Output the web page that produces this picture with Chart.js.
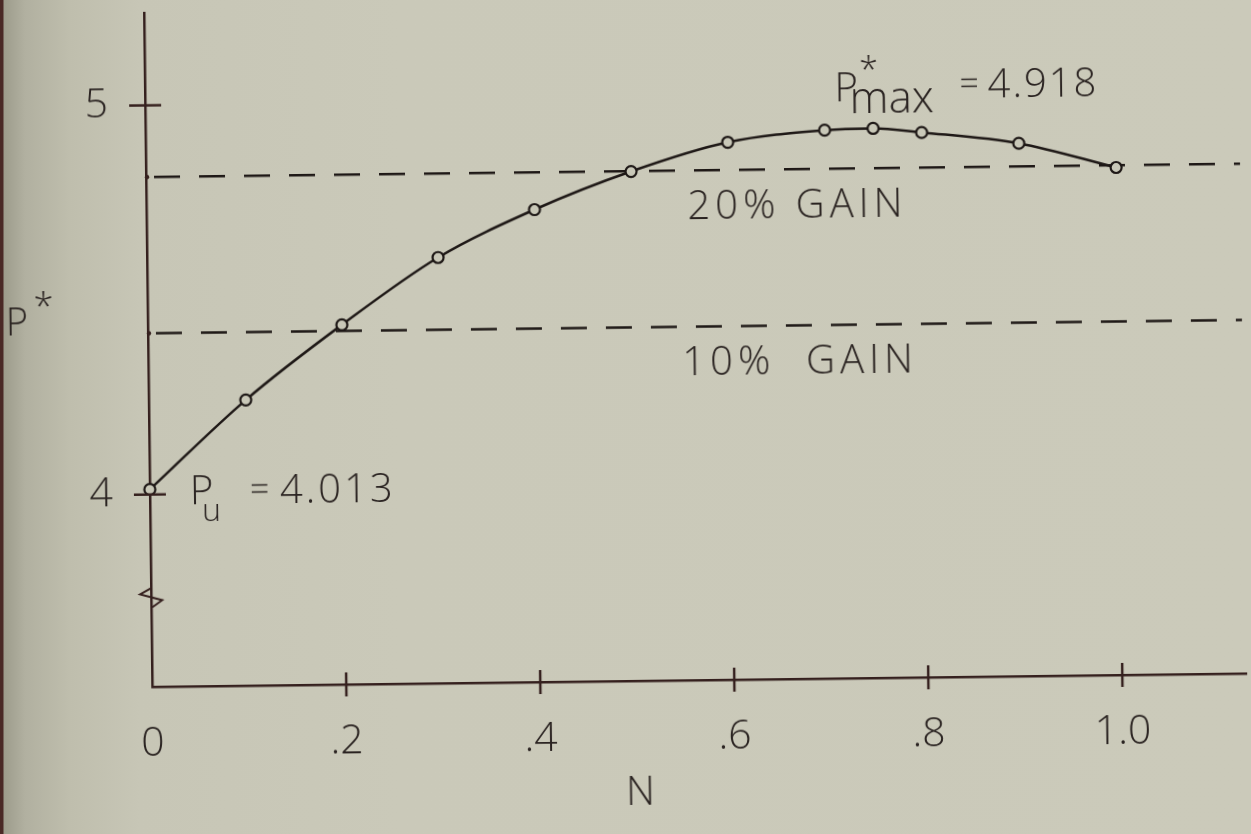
<!DOCTYPE html>
<html>
<head>
<meta charset="utf-8">
<script src="https://cdn.jsdelivr.net/npm/chart.js@4.4.1/dist/chart.umd.min.js"></script>
<style>
  html, body { margin: 0; padding: 0; width: 1251px; height: 834px; overflow: hidden; }
  body {
    background: linear-gradient(to right,
      #4a2926 0px, #4a2926 3px, #9d9c8c 4px, #b1b0a0 25px,
      #bfbead 70px, #c7c6b6 140px, #cac9b9 400px, #cbcaba 100%);
  }
  #wrap {
    position: absolute; left: 0; top: 0; width: 1251px; height: 834px;
    transform: rotate(-0.7deg); transform-origin: 625px 417px;
  }
</style>
</head>
<body>
<div id="wrap"><canvas id="chart" width="1251" height="834"></canvas></div>
<script>
// Optimum P* as a function of N
const N_VALUES = [0, 0.1, 0.2, 0.3, 0.4, 0.5, 0.6, 0.7, 0.75, 0.8, 0.9, 1.0];
const P_VALUES = [4.013, 4.24, 4.43, 4.60, 4.72, 4.815, 4.887, 4.915, 4.918, 4.906, 4.875, 4.81];

const P_U = 4.013;          // uniform value at N = 0
const P_MAX = 4.918;        // peak value
const N_AT_MAX = 0.75;

// Reference gain levels relative to P_U
const GAIN_FACTORS = [1.2, 1.1];
const GAIN_LABELS = ['20% GAIN', '10%  GAIN'];

const X_TICKS = [0, 0.2, 0.4, 0.6, 0.8, 1.0];
const X_TICK_LABELS = ['0', '.2', '.4', '.6', '.8', '1.0'];
const Y_TICKS = [4, 5];
const Y_TICK_LABELS = ['4', '5'];

const X_RANGE = [0, 1.128];
const Y_RANGE = [3.506, 5.236];
const Y_BREAK = 3.736;      // axis break marker (axis does not start at zero)

const INK = '#1e1816';
const AXIS_INK = '#35201e';
const TEXT_INK = '#2a2321';
const PAPER = '#c9c8b8';
const FONT = '"Open Sans", "Liberation Sans", "DejaVu Sans", sans-serif';

const curve = N_VALUES.map((n, i) => ({ x: n, y: P_VALUES[i] }));
const gainLines = GAIN_FACTORS.map(f => [
  { x: X_RANGE[0], y: P_U * f },
  { x: X_RANGE[1], y: P_U * f }
]);

// axes use a fixed frame: no extra room reserved for edge labels
const fixFrame = size => s => {
  if (s.isHorizontal()) s.height = size; else s.width = size;
  s.paddingTop = s.paddingBottom = s.paddingLeft = s.paddingRight = 0;
};

const decorations = {
  id: 'decorations',
  afterDraw(chart) {
    const { ctx, chartArea: a, scales: { x, y } } = chart;
    ctx.save();
    ctx.strokeStyle = AXIS_INK;
    ctx.lineWidth = 2.5;
    ctx.lineCap = 'butt';
    const seg = (x1, y1, x2, y2) => { ctx.beginPath(); ctx.moveTo(x1, y1); ctx.lineTo(x2, y2); ctx.stroke(); };

    // tick marks crossing the axes
    Y_TICKS.forEach(v => { const py = y.getPixelForValue(v); seg(a.left - 16, py, a.left + 16, py); });
    X_TICKS.forEach(v => {
      if (v === X_RANGE[0]) return;
      const px = x.getPixelForValue(v);
      seg(px, a.bottom - 12, px, a.bottom + 12);
    });

    // small dots where the gain lines meet the axis
    ctx.fillStyle = AXIS_INK;
    GAIN_FACTORS.forEach(f => {
      const gy = y.getPixelForValue(P_U * f);
      ctx.beginPath(); ctx.arc(a.left + 1, gy, 2.2, 0, Math.PI * 2); ctx.fill();
    });

    // axis break marker
    const by = y.getPixelForValue(Y_BREAK);
    ctx.lineWidth = 2;
    ctx.beginPath();
    ctx.moveTo(a.left, by - 9);
    ctx.lineTo(a.left - 11, by - 3);
    ctx.lineTo(a.left + 11, by + 3);
    ctx.lineTo(a.left + 1, by + 10);
    ctx.stroke();

    // text
    ctx.fillStyle = TEXT_INK;
    const txt = (s, tx, ty, size, spacing = 0, align = 'left') => {
      ctx.font = `300 ${size}px ${FONT}`;
      ctx.letterSpacing = spacing + 'px';
      ctx.textAlign = align;
      ctx.textBaseline = 'alphabetic';
      ctx.fillText(s, tx, ty);
    };

    // y-axis title P*
    txt('P', a.left - 142, 328, 38);
    txt('*', a.left - 114, 312, 36);

    // P_u annotation
    const ux = x.getPixelForValue(N_VALUES[0]);
    const uy = y.getPixelForValue(P_U);
    txt('P', ux + 40, uy + 15, 40);
    txt('u', ux + 52, uy + 32, 32);
    txt('=', ux + 100, uy + 12, 34);
    txt(P_U.toFixed(3), ux + 130, uy + 15, 40, 3);

    // P*max annotation
    const mx = x.getPixelForValue(N_AT_MAX);
    const my = y.getPixelForValue(P_MAX);
    txt('P', mx - 38, my - 27, 40);
    txt('*', mx - 13, my - 46, 34);
    txt('max', mx - 23, my - 15, 44);
    txt('=', mx + 87, my - 32, 34);
    txt(P_MAX.toFixed(3), mx + 115, my - 29, 40, 2);

    // gain labels under their dashed lines
    GAIN_FACTORS.forEach((f, i) => {
      const gy = y.getPixelForValue(P_U * f);
      txt(GAIN_LABELS[i], i === 0 ? 690 : 683, gy + 49, 40, 5);
    });

    // x-axis title
    txt('N', 636, 805, 40, 0, 'center');
    ctx.restore();
  }
};

new Chart(document.getElementById('chart'), {
  type: 'line',
  data: {
    datasets: [
      {
        data: curve,
        borderColor: INK,
        borderWidth: 2.5,
        cubicInterpolationMode: 'monotone',
        pointRadius: 5.5,
        pointBorderWidth: 2.2,
        pointBorderColor: INK,
        pointBackgroundColor: PAPER,
        clip: false
      },
      ...gainLines.map(pts => ({
        data: pts,
        borderColor: INK,
        borderWidth: 2.5,
        borderDash: [26, 19],
        borderDashOffset: 37,
        pointRadius: 0,
        tension: 0
      }))
    ]
  },
  options: {
    responsive: false,
    animation: false,
    devicePixelRatio: 1,
    layout: { padding: { top: 6, left: 0, right: 0, bottom: 0 } },
    plugins: { legend: { display: false }, tooltip: { enabled: false } },
    scales: {
      x: {
        type: 'linear',
        min: X_RANGE[0], max: X_RANGE[1],
        grid: { display: false, drawTicks: false },
        border: { display: true, color: AXIS_INK, width: 2.5 },
        afterBuildTicks: s => { s.ticks = X_TICKS.map(v => ({ value: v })); },
        afterFit: fixFrame(153),
        ticks: {
          padding: 33,
          color: TEXT_INK,
          font: { family: FONT, size: 41, weight: '300' },
          maxRotation: 0,
          autoSkip: false,
          callback: v => X_TICK_LABELS[X_TICKS.indexOf(v)]
        }
      },
      y: {
        type: 'linear',
        min: Y_RANGE[0], max: Y_RANGE[1],
        grid: { display: false, drawTicks: false },
        border: { display: true, color: AXIS_INK, width: 2.5 },
        afterBuildTicks: s => { s.ticks = Y_TICKS.map(v => ({ value: v })); },
        afterFit: fixFrame(149),
        ticks: {
          padding: 37,
          color: TEXT_INK,
          font: { family: FONT, size: 41, weight: '300' },
          autoSkip: false,
          callback: v => Y_TICK_LABELS[Y_TICKS.indexOf(v)]
        }
      }
    }
  },
  plugins: [decorations]
});
</script>
</body>
</html>
